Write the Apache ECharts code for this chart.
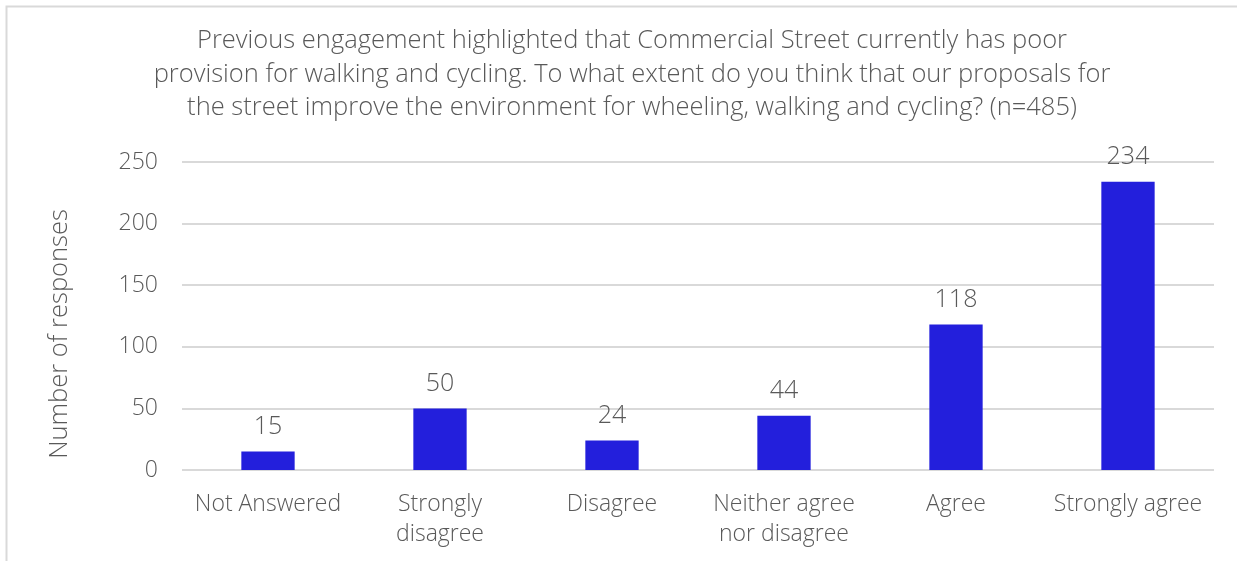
<!DOCTYPE html>
<html>
<head>
<meta charset="utf-8">
<script src="https://cdn.jsdelivr.net/npm/echarts@6/dist/echarts.min.js"></script>
<style>
  html, body { margin: 0; padding: 0; background: #fff; }
  #chart { width: 1237px; height: 561px; }
</style>
</head>
<body>
<div id="chart"></div>
<script>
const categories = ['Not Answered', 'Strongly\ndisagree', 'Disagree', 'Neither agree\nnor disagree', 'Agree', 'Strongly agree'];
const responses = [15, 50, 24, 44, 118, 234];
const yTicks = [0, 50, 100, 150, 200, 250];

const titleText = 'Previous engagement highlighted that Commercial Street currently has poor\n' +
  'provision for walking and cycling. To what extent do you think that our proposals for\n' +
  'the street improve the environment for wheeling, walking and cycling? (n=485)';

const textColor = '#595959';
const fontFamily = '"Open Sans", "Noto Sans", sans-serif';

let chart = echarts.init(document.getElementById('chart'));
chart.setOption({
  animation: false,
  textStyle: { fontFamily: fontFamily },
  title: {
    text: titleText,
    left: 627,
    top: 19,
    textAlign: 'center',
    textStyle: {
      color: textColor,
      fontSize: 25.5,
      fontWeight: 300,
      lineHeight: 33.5,
      fontFamily: fontFamily,
    },
  },
  graphic: [
    {
      type: 'rect',
      shape: { x: 6.5, y: 6.5, width: 1240, height: 570 },
      style: { fill: 'none', stroke: '#d9d9d9', lineWidth: 2 },
      silent: true,
    },
    {
      type: 'text',
      x: 60,
      y: 334,
      rotation: Math.PI / 2,
      style: {
        text: 'Number of responses',
        fill: textColor,
        fontSize: 25.5,
        fontWeight: 300,
        fontFamily: fontFamily,
        align: 'center',
        verticalAlign: 'middle',
      },
    },
  ],
  grid: {
    left: 182,
    right: 23,
    top: 162,
    bottom: 91,
  },
  xAxis: {
    type: 'category',
    data: categories,
    axisLine: { show: false },
    axisTick: { show: false },
    axisLabel: {
      color: textColor,
      fontSize: 23,
      fontWeight: 300,
      lineHeight: 30,
      margin: 19,
      interval: 0,
      fontFamily: fontFamily,
    },
  },
  yAxis: {
    type: 'value',
    min: yTicks[0],
    max: yTicks[yTicks.length - 1],
    interval: 50,
    axisLine: { show: false },
    axisTick: { show: false },
    axisLabel: {
      color: textColor,
      fontSize: 23,
      fontWeight: 300,
      margin: 24,
      fontFamily: fontFamily,
    },
    splitLine: { lineStyle: { color: '#d9d9d9', width: 2 } },
  },
  series: [
    {
      name: 'Responses',
      type: 'bar',
      data: responses,
      barWidth: '31%',
      itemStyle: { color: '#231fdc' },
      label: {
        show: true,
        position: 'top',
        distance: 12,
        color: textColor,
        fontSize: 25,
        fontWeight: 300,
        fontFamily: fontFamily,
      },
    },
  ],
});
</script>
</body>
</html>
